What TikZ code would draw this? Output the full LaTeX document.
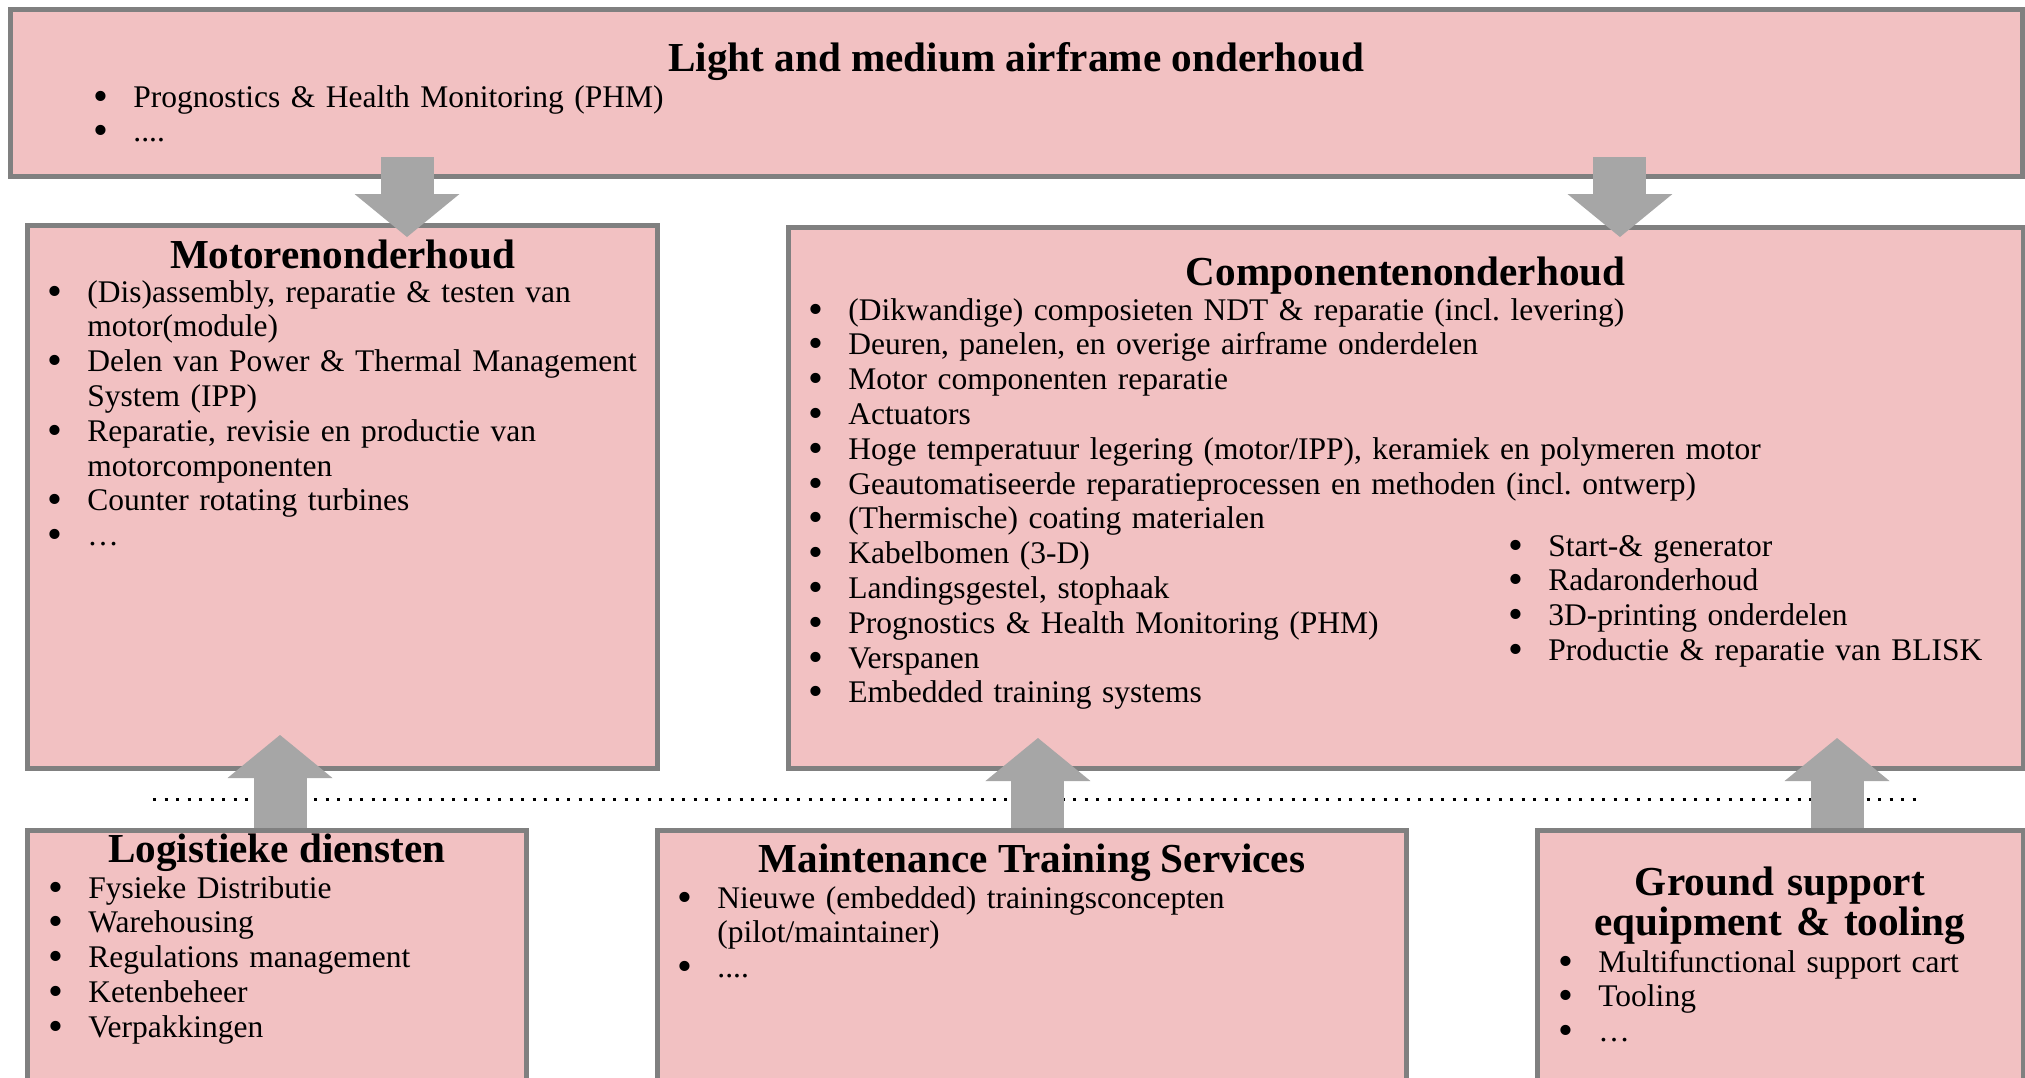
\documentclass[tikz,border=0pt]{standalone}
\usepackage{fontspec}
\setmainfont{Liberation Serif}
\usetikzlibrary{arrows.meta, calc, positioning}

\definecolor{boxpink}{RGB}{242,193,194}
\definecolor{boxgray}{RGB}{128,128,128}
\definecolor{arrowgray}{RGB}{166,166,166}

\newcommand{\itm}[1]{\makebox[20pt][l]{\raisebox{-0.1em}{\scalebox{1.35}{\textbullet}}}#1}
\newcommand{\wrp}[1]{\hspace*{20pt}#1}

\begin{document}
\frenchspacing
\begin{tikzpicture}[x=0.5pt, y=-0.5pt,
  box/.style={draw=boxgray, fill=boxpink, line width=2.5pt, inner sep=0pt, outer sep=0pt},
  head/.style={font=\fontsize{20.6}{20}\selectfont\bfseries, inner sep=0pt, anchor=base},
  items/.style={font=\fontsize{15.75}{17.4}\selectfont, inner sep=0pt, anchor=base west, align=left, text width=#1},
  items/.default=300pt,
  bigarrow/.style={arrowgray, line width=26.5pt, -{Triangle[length=21.5pt, width=52.5pt, line width=0pt]}},
  sepline/.style={line width=1.5pt, dash pattern=on 1.5pt off 4.25pt}]
  \useasboundingbox (0,0) rectangle (2025,1077);

  % boxes
  \node[box, minimum width=1006pt, minimum height=83.25pt] (airframe) at (1016.5,92.75) {};
  \node[box, minimum width=315pt, minimum height=271.5pt] (motor) at (342.5,497) {};
  \node[box, minimum width=617.25pt, minimum height=270.5pt] (comp) at (1405.75,498) {};
  \node[box, minimum width=249.5pt, minimum height=134.75pt] (logist) at (277,965.25) {};
  \node[box, minimum width=374.25pt, minimum height=134.75pt] (maint) at (1031.75,965.25) {};
  \node[box, minimum width=242.75pt, minimum height=134.75pt] (ground) at (1780.25,965.25) {};

  % titles
  \node[head] (airframehead) at (1016,71) {Light and medium airframe onderhoud};
  \node[head] (motorhead) at (342.5,268) {Motorenonderhoud};
  \node[head] (comphead) at (1405.75,285) {Componentenonderhoud};
  \node[head] (logisthead) at (277,862) {Logistieke diensten};
  \node[head] (mainthead) at (1032,872) {Maintenance Training Services};
  \node[head, text width=230pt, align=center] (groundhead) at (1780,895) {Ground support\\ equipment \& tooling};

  % lists
  \node[items=400pt] (airframelist) at (93,107) {\itm{Prognostics \& Health Monitoring (PHM)}\\ \itm{....}};
  \node[items] (motorlist) at (47,302) {\itm{(Dis)assembly, reparatie \& testen van}\\ \wrp{motor(module)}\\
    \itm{Delen van Power \& Thermal Management}\\ \wrp{System (IPP)}\\
    \itm{Reparatie, revisie en productie van}\\ \wrp{motorcomponenten}\\
    \itm{Counter rotating turbines}\\ \itm{\dots}};
  \node[items=520pt] (complist) at (808,320) {\itm{(Dikwandige) composieten NDT \& reparatie (incl. levering)}\\
    \itm{Deuren, panelen, en overige airframe onderdelen}\\
    \itm{Motor componenten reparatie}\\
    \itm{Actuators}\\
    \itm{Hoge temperatuur legering (motor/IPP), keramiek en polymeren motor}\\
    \itm{Geautomatiseerde reparatieprocessen en methoden (incl. ontwerp)}\\
    \itm{(Thermische) coating materialen}\\
    \itm{Kabelbomen (3-D)}\\
    \itm{Landingsgestel, stophaak}\\
    \itm{Prognostics \& Health Monitoring (PHM)}\\
    \itm{Verspanen}\\
    \itm{Embedded training systems}};
  \node[items=240pt] (comprest) at (1508,556) {\itm{Start-\& generator}\\ \itm{Radaronderhoud}\\
    \itm{3D-printing onderdelen}\\ \itm{Productie \& reparatie van BLISK}};
  \node[items=240pt] (logistlist) at (48,898) {\itm{Fysieke Distributie}\\ \itm{Warehousing}\\
    \itm{Regulations management}\\ \itm{Ketenbeheer}\\ \itm{Verpakkingen}};
  \node[items] (maintlist) at (677,908) {\itm{Nieuwe (embedded) trainingsconcepten}\\ \wrp{(pilot/maintainer)}\\ \itm{....}};
  \node[items=240pt] (groundlist) at (1558,972) {\itm{Multifunctional support cart}\\ \itm{Tooling}\\ \itm{\dots}};

  % separator
  \draw[sepline] (153,799) -- (1923,799);

  % block arrows
  \draw[bigarrow] ($(airframe.south -| motor.north)+(32.25pt,9.5pt)$) -- ($(motor.north)+(32.25pt,-5.75pt)$);
  \draw[bigarrow] ($(airframe.south -| comp.north)+(107.1pt,9.5pt)$) -- ($(comp.north)+(107.1pt,-4.75pt)$);
  \draw[bigarrow] ($(logist.north)+(1.5pt,1.25pt)$) -- ($(motor.south -| logist.north)+(1.5pt,16.75pt)$);
  \draw[bigarrow] ($(maint.north)+(3.1pt,1.25pt)$) -- ($(comp.south -| maint.north)+(3.1pt,15.25pt)$);
  \draw[bigarrow] ($(ground.north)+(28.4pt,1.25pt)$) -- ($(comp.south -| ground.north)+(28.4pt,15.25pt)$);
\end{tikzpicture}
\end{document}
